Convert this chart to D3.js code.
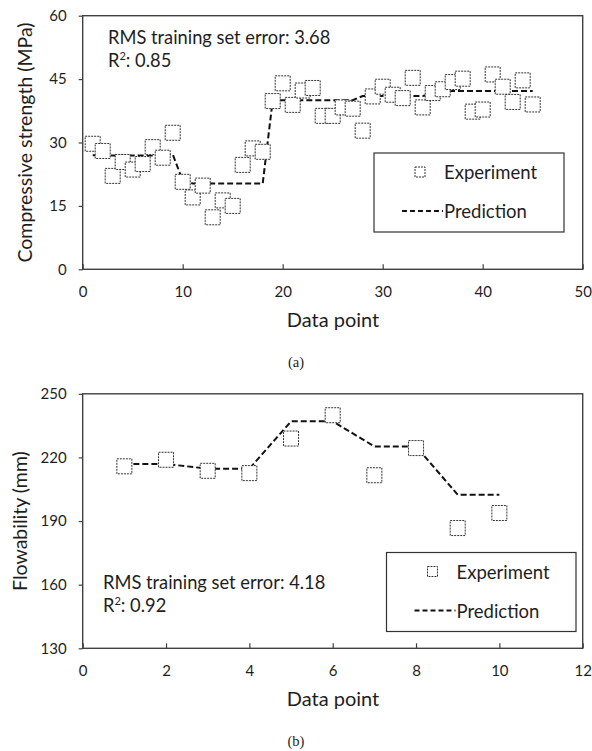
<!DOCTYPE html>
<html>
<head>
<meta charset="utf-8">
<script src="https://cdn.jsdelivr.net/npm/d3@7"></script>
<style>
  html, body { margin: 0; padding: 0; background: #fff; }
  svg { display: block; }
  text { font-family: Lato, "Noto Sans", sans-serif; fill: #1e1e1e; }
</style>
</head>
<body>
<svg id="chart" width="592" height="751"></svg>
<script>
// ---- data ----
const strengthExperiment = [29.7, 28.0, 22.1, 25.4, 23.6, 24.9, 28.9, 26.4, 32.3, 20.7,
  17.0, 19.8, 12.3, 16.3, 15.0, 24.7, 28.6, 27.8, 39.8, 44.0, 38.9, 42.3, 42.9, 36.3, 36.3,
  38.3, 38.0, 32.8, 40.9, 43.2, 41.3, 40.5, 45.3, 38.3, 41.7, 42.6, 44.3, 45.1, 37.3, 37.8,
  46.1, 43.2, 39.6, 44.7, 39.0];
const strengthPrediction = [27.0, 27.0, 26.9, 26.9, 26.9, 26.9, 26.9, 27.0, 27.2, 21.0,
  20.3, 20.3, 20.3, 20.3, 20.3, 20.3, 20.3, 20.3, 40.0, 40.0, 40.0, 40.0, 40.0, 40.0, 40.0,
  40.0, 40.0, 41.0, 41.0, 41.0, 41.0, 41.0, 41.0, 41.0, 41.5, 42.0, 42.2, 42.2, 42.2, 42.2,
  42.2, 42.2, 42.2, 42.2, 42.2];
const strengthXTicks = [0, 10, 20, 30, 40, 50];
const strengthYTicks = [0, 15, 30, 45, 60];

const flowExperiment = [215.8, 218.9, 213.7, 212.6, 228.9, 239.9, 211.6, 224.4, 186.7, 193.8];
const flowPrediction = [216.9, 216.9, 214.7, 214.7, 237.0, 237.0, 225.2, 225.2, 202.4, 202.4];
const flowXTicks = [0, 2, 4, 6, 8, 10, 12];
const flowYTicks = [130, 160, 190, 220, 250];

const legendLabels = ['Experiment', 'Prediction'];

const svg = d3.select('#chart');

function styleAxis(a) {
  a.select('.domain').remove();
  a.selectAll('line').attr('stroke', '#404040').attr('stroke-width', 1.2);
  a.selectAll('text').style('font-size', '15px').style('fill', '#1e1e1e');
}

function drawPanel(cfg) {
  const g = svg.append('g');
  const x = d3.scaleLinear().domain(cfg.xDomain).range([82.7, 582.7]);
  const y = d3.scaleLinear().domain(cfg.yDomain).range([cfg.bottom, cfg.top]);

  // y axis: ticks outside on the left
  g.append('g')
    .attr('transform', `translate(${x.range()[0]},0)`)
    .call(d3.axisLeft(y).tickValues(cfg.yTicks).tickSize(4).tickPadding(12))
    .call(styleAxis);

  // x axis: ticks pointing into the plot
  g.append('g')
    .attr('transform', `translate(0,${cfg.bottom})`)
    .call(d3.axisBottom(x).tickValues(cfg.xTicks).tickSize(-5).tickPadding(17))
    .call(styleAxis);

  // plot frame
  g.append('rect')
    .attr('x', x.range()[0]).attr('y', cfg.top)
    .attr('width', x.range()[1] - x.range()[0])
    .attr('height', cfg.bottom - cfg.top)
    .attr('fill', 'none').attr('stroke', '#404040').attr('stroke-width', 1.4);

  const pts = cfg.experiment.map((v, i) => ({ n: i + 1, v, p: cfg.prediction[i] }));

  // prediction line
  g.append('path')
    .datum(pts)
    .attr('fill', 'none')
    .attr('stroke', '#111')
    .attr('stroke-width', 2)
    .attr('stroke-dasharray', '6,3')
    .attr('d', d3.line().x(d => x(d.n)).y(d => y(d.p)));

  // experiment markers (white filled, dotted outline)
  const s = 15;
  g.selectAll('.exp')
    .data(pts)
    .join('rect')
    .attr('class', 'exp')
    .attr('x', d => x(d.n) - s / 2)
    .attr('y', d => y(d.v) - s / 2)
    .attr('width', s).attr('height', s)
    .attr('fill', '#fff')
    .attr('stroke', '#333')
    .attr('stroke-width', 1)
    .attr('stroke-dasharray', '2,1');

  // stats text
  g.append('text')
    .attr('x', cfg.statsX).attr('y', cfg.statsY)
    .style('font-size', '18.3px')
    .text(`RMS training set error: ${cfg.rms}`);
  const r = g.append('text')
    .attr('x', cfg.statsX).attr('y', cfg.statsY + 23)
    .style('font-size', '18.3px');
  r.append('tspan').text('R');
  r.append('tspan').style('font-size', '11px').attr('dy', -7).text('2');
  r.append('tspan').attr('dy', 7).text(`: ${cfg.r2}`);

  // legend
  const L = cfg.legend;
  g.append('rect')
    .attr('x', L.x).attr('y', L.y).attr('width', L.w).attr('height', L.h)
    .attr('fill', '#fff').attr('stroke', '#333').attr('stroke-width', 1.2);
  g.append('rect')
    .attr('x', L.x + 41).attr('y', L.y + 14).attr('width', 10).attr('height', 10)
    .attr('fill', 'none').attr('stroke', '#333').attr('stroke-width', 1)
    .attr('stroke-dasharray', '2,1');
  g.append('line')
    .attr('x1', L.x + 28).attr('x2', L.x + 69)
    .attr('y1', L.y + 58).attr('y2', L.y + 58)
    .attr('stroke', '#111').attr('stroke-width', 2).attr('stroke-dasharray', '5,3');
  g.selectAll('.leg')
    .data(legendLabels)
    .join('text')
    .attr('class', 'leg')
    .attr('x', L.x + 70)
    .attr('y', (d, i) => L.y + 26 + i * 39)
    .style('font-size', '18.5px')
    .text(d => d);

  // axis titles
  g.append('text')
    .attr('transform', `translate(${cfg.yTitleX},${(cfg.top + cfg.bottom) / 2}) rotate(-90)`)
    .attr('text-anchor', 'middle')
    .style('font-size', '19.5px')
    .text(cfg.yTitle);
  g.append('text')
    .attr('x', 333).attr('y', cfg.bottom + 57.5)
    .attr('text-anchor', 'middle')
    .style('font-size', '20px')
    .text('Data point');

  // panel caption
  g.append('text')
    .attr('x', 296).attr('y', cfg.bottom + 97.5)
    .attr('text-anchor', 'middle')
    .style('font-family', '"Liberation Serif", serif')
    .style('font-size', '14.5px')
    .text(cfg.caption);
}

drawPanel({
  xDomain: [0, 50], yDomain: [0, 60], top: 15.7, bottom: 269.3,
  xTicks: strengthXTicks, yTicks: strengthYTicks,
  experiment: strengthExperiment, prediction: strengthPrediction,
  rms: '3.68', r2: '0.85', statsX: 108, statsY: 44,
  legend: { x: 374, y: 153, w: 190, h: 79 },
  yTitle: 'Compressive strength (MPa)', yTitleX: 32, caption: '(a)'
});

drawPanel({
  xDomain: [0, 12], yDomain: [130, 250], top: 393.8, bottom: 648.3,
  xTicks: flowXTicks, yTicks: flowYTicks,
  experiment: flowExperiment, prediction: flowPrediction,
  rms: '4.18', r2: '0.92', statsX: 103, statsY: 589,
  legend: { x: 386.5, y: 552.5, w: 189.5, h: 79 },
  yTitle: 'Flowability (mm)', yTitleX: 26.5, caption: '(b)'
});
</script>
</body>
</html>
